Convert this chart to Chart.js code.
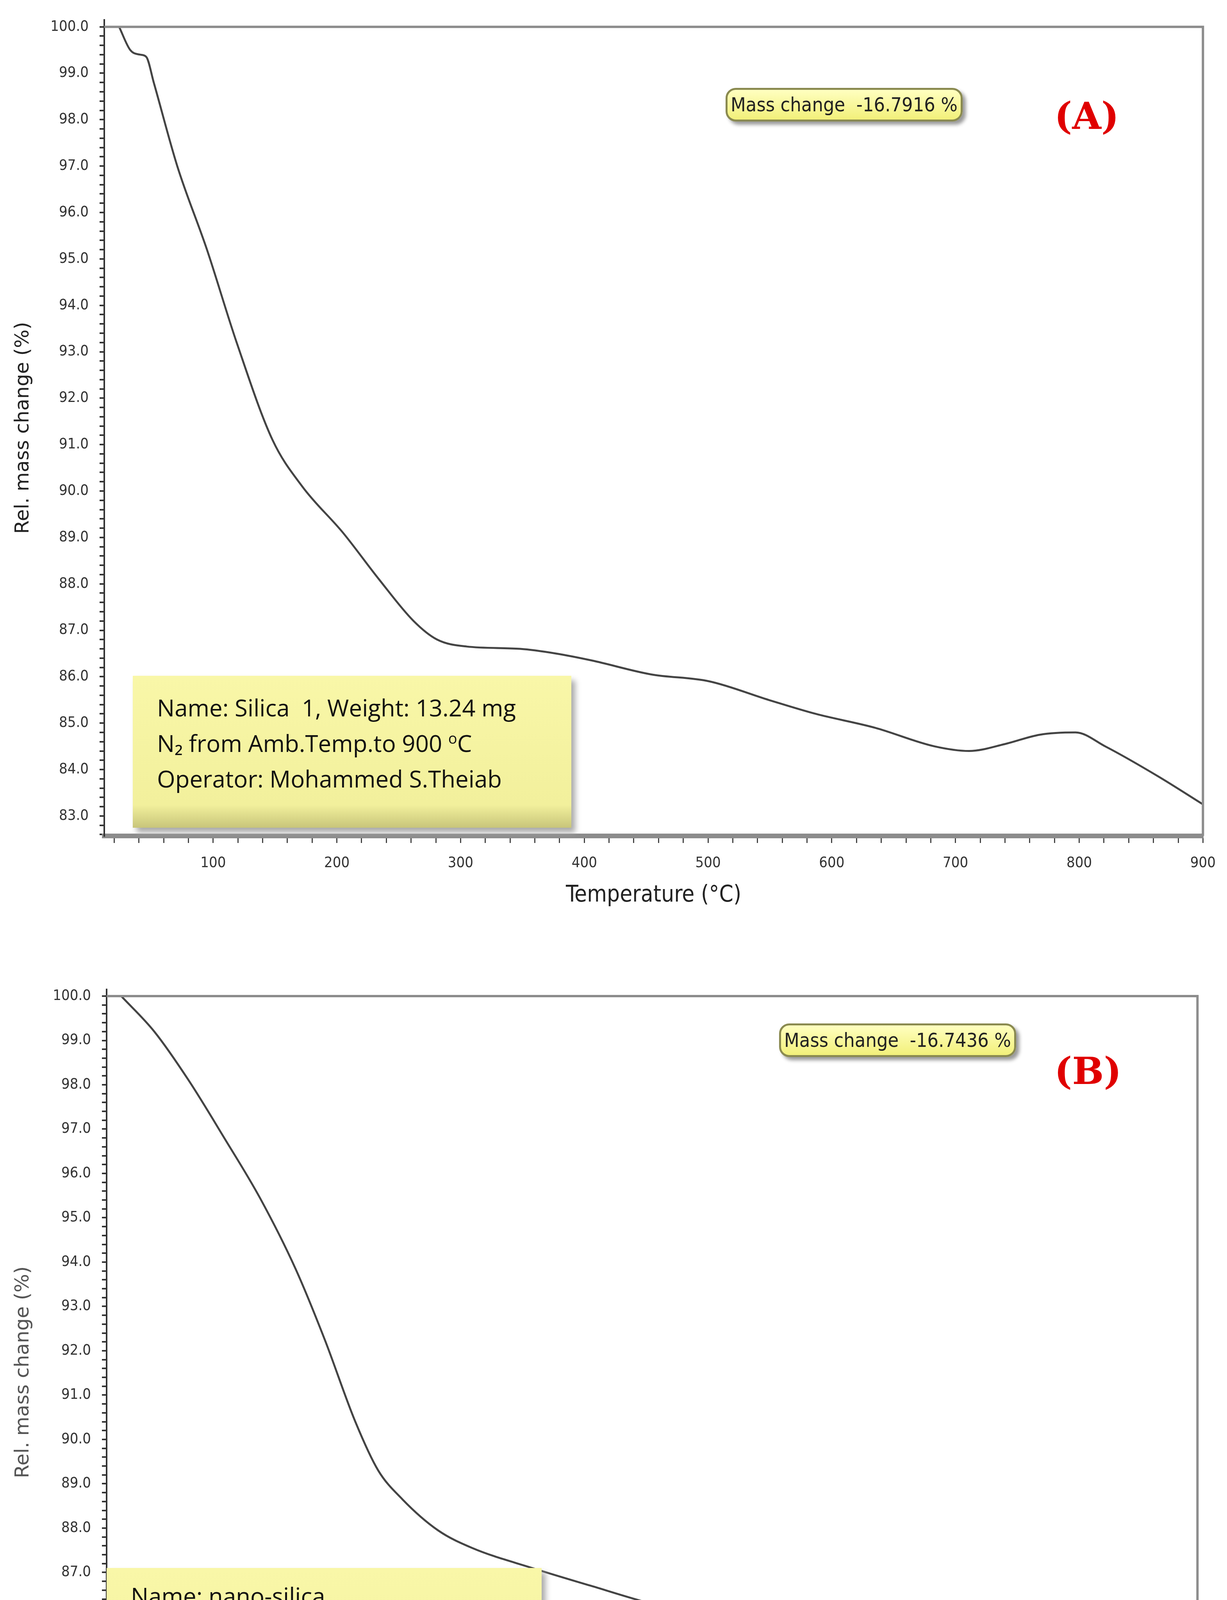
<!DOCTYPE html>
<html>
<head>
<meta charset="utf-8">
<script src="https://cdn.jsdelivr.net/npm/chart.js@4.4.1/dist/chart.umd.min.js"></script>
<style>
  body { margin: 0; background: #fff; width: 3142px; height: 4754px; position: relative; overflow: hidden; }
  canvas { position: absolute; left: 0; }
  .mass { position: absolute; border: 5px solid #8a8a50; border-radius: 26px; background: linear-gradient(#ffffc0, #f2f07a);
          box-shadow: 8px 8px 10px #999; font-family: "Liberation Sans Narrow", "DejaVu Sans Condensed", sans-serif;
          font-size: 50px; color: #222; display: flex; align-items: center; justify-content: center; white-space: pre; }
  .tag { position: absolute; font-family: "DejaVu Serif", serif; font-weight: bold; font-size: 96px; color: #e00000; }
  .info { position: absolute; background: linear-gradient(#f9f7a8, #f2f09c 85%, #c8c57a); box-shadow: 10px 12px 14px #aaa;
          font-family: "Open Sans", sans-serif; font-size: 60px; color: #111; box-sizing: border-box; }
  .info div { position: absolute; left: 62px; white-space: nowrap; }
</style>
</head>
<body>
<canvas id="chartA"></canvas>
<canvas id="chartB"></canvas>

<div class="mass" style="left:1858px;top:225px;width:597px;height:76px;">Mass change  -16.7916 %</div>
<div class="tag" style="left:2700px;top:240px;">(A)</div>
<div class="info" style="left:340px;top:1730px;width:1123px;height:389px;">
  <div style="top:40px;">Name: Silica &nbsp;1, Weight: 13.24 mg</div>
  <div style="top:131px;">N₂ from Amb.Temp.to 900 <sup style="font-size:38px">o</sup>C</div>
  <div style="top:222px;">Operator: Mohammed S.Theiab</div>
</div>

<div class="mass" style="left:1995px;top:2620px;width:597px;height:76px;">Mass change  -16.7436 %</div>
<div class="tag" style="left:2700px;top:2685px;">(B)</div>
<div class="info" style="left:273px;top:4014px;width:1114px;height:464px;">
  <div style="top:30px;">Name: nano-silica</div>
  <div style="top:122px;">Weight: 14.51 mg</div>
  <div style="top:213px;">N₂ from Amb.Temp.to 900 <sup style="font-size:38px">o</sup>C</div>
  <div style="top:304px;">Operator: Mohammed S.Theiab</div>
</div>

<script>
// (A) Silica 1
var tempA = [24, 33, 41, 46, 52, 71, 95, 119, 148, 172, 205, 234, 262, 281, 305, 348, 377, 406, 454, 501, 549, 587, 635, 683, 711, 740, 768, 797, 821, 864, 900];
var massA = [100, 99.5, 99.4, 99.35, 98.8, 97.0, 95.2, 93.2, 91.1, 90.1, 89.1, 88.1, 87.2, 86.8, 86.65, 86.6, 86.5, 86.35, 86.05, 85.9, 85.5, 85.2, 84.9, 84.5, 84.4, 84.55, 84.75, 84.8, 84.5, 83.85, 83.25];
// (B) nano-silica
var tempB = [54, 80, 107, 135, 163, 191, 214, 238, 256, 275, 303, 330, 377, 423, 470, 516, 544, 591, 628, 665, 702, 749, 795, 833, 860, 879, 899];
var massB = [100, 99.2, 98.1, 96.8, 95.45, 93.85, 92.25, 90.4, 89.3, 88.65, 87.95, 87.55, 87.1, 86.7, 86.3, 86.0, 85.95, 85.95, 85.9, 85.7, 85.45, 85.1, 84.75, 84.5, 84.15, 83.8, 83.35];
var xTicks = [100, 200, 300, 400, 500, 600, 700, 800, 900];

function frame(color) {
  return {
    id: 'frame',
    afterDraw: function(chart) {
      var a = chart.chartArea, c = chart.ctx;
      var yTop = chart.scales.y.getPixelForValue(100);
      c.save();
      c.strokeStyle = color; c.lineWidth = 6;
      c.beginPath(); c.moveTo(a.left, yTop); c.lineTo(a.right, yTop); c.lineTo(a.right, a.bottom); c.stroke();
      c.restore();
    }
  };
}

function makeChart(id, top, height, temps, masses, opt) {
  var cv = document.getElementById(id);
  cv.style.top = top + 'px';
  cv.width = 3142; cv.height = height;
  var pts = temps.map(function(t, i) { return { x: t, y: masses[i] }; });
  return new Chart(cv.getContext('2d'), {
    type: 'line',
    data: { datasets: [{ data: pts, borderColor: '#444', borderWidth: 5, pointRadius: 0, tension: 0.4, cubicInterpolationMode: 'monotone', fill: false }] },
    plugins: [frame('#8c8c8c')],
    options: {
      responsive: false, animation: false, devicePixelRatio: 1,
      layout: { padding: { top: opt.padTop, right: opt.padRight, left: 0, bottom: 0 } },
      plugins: { legend: { display: false }, tooltip: { enabled: false } },
      scales: {
        x: {
          type: 'linear', min: opt.xMin, max: 900,
          afterFit: function(s) { s.height = opt.xH; },
          afterBuildTicks: function(s) {
            var t = []; for (var v = 20; v <= 900; v += 20) if (v >= opt.xMin) t.push({ value: v });
            s.ticks = t;
          },
          ticks: { autoSkip: false, maxRotation: 0, padding: opt.xPad, color: '#333',
                   font: { family: 'DejaVu Sans Condensed', size: 38 },
                   callback: function(v) { return xTicks.indexOf(v) >= 0 ? String(v) : ''; } },
          grid: { drawOnChartArea: false, tickLength: 18, color: '#444', lineWidth: 3 },
          border: { display: true, color: '#8c8c8c', width: 12 },
          title: { display: true, text: opt.xTitle, color: '#222', font: { family: 'DejaVu Sans Condensed', size: 58 },
                   padding: { top: 0, bottom: opt.xTitlePad } }
        },
        y: {
          min: opt.yMin, max: 100.15,
          afterFit: function(s) { s.width = opt.yW; },
          afterBuildTicks: function(s) {
            var t = []; for (var k = Math.ceil(opt.yMin * 5); k <= 500; k++) t.push({ value: k / 5 });
            s.ticks = t;
          },
          ticks: { autoSkip: false, padding: 28, color: '#333',
                   font: { family: 'DejaVu Sans Condensed', size: 38 },
                   callback: function(v) { return Math.abs(v - Math.round(v)) < 1e-6 ? v.toFixed(1) : ''; } },
          grid: { drawOnChartArea: false, tickLength: 12, color: '#333', lineWidth: 4 },
          border: { display: true, color: '#333', width: 4 },
          title: { display: true, text: 'Rel. mass change (%)', color: opt.yTitleColor,
                   font: { family: 'DejaVu Sans', size: 50 }, padding: { top: 30, bottom: 0 } }
        }
      }
    }
  });
}

makeChart('chartA', 0, 2380, tempA, massA, {
  padTop: 49, padRight: 51, xMin: 12, xH: 240, xPad: 29, xTitlePad: 52, yW: 267, yMin: 82.57,
  xTitle: 'Temperature (°C)', yTitleColor: '#222'
});
makeChart('chartB', 2400, 2354, tempB, massB, {
  padTop: 133, padRight: 60, xMin: 42.5, xH: 261, xPad: 43, xTitlePad: 28, yW: 273, yMin: 82.88,
  xTitle: 'Temperature, °C', yTitleColor: '#555'
});
</script>
</body>
</html>
